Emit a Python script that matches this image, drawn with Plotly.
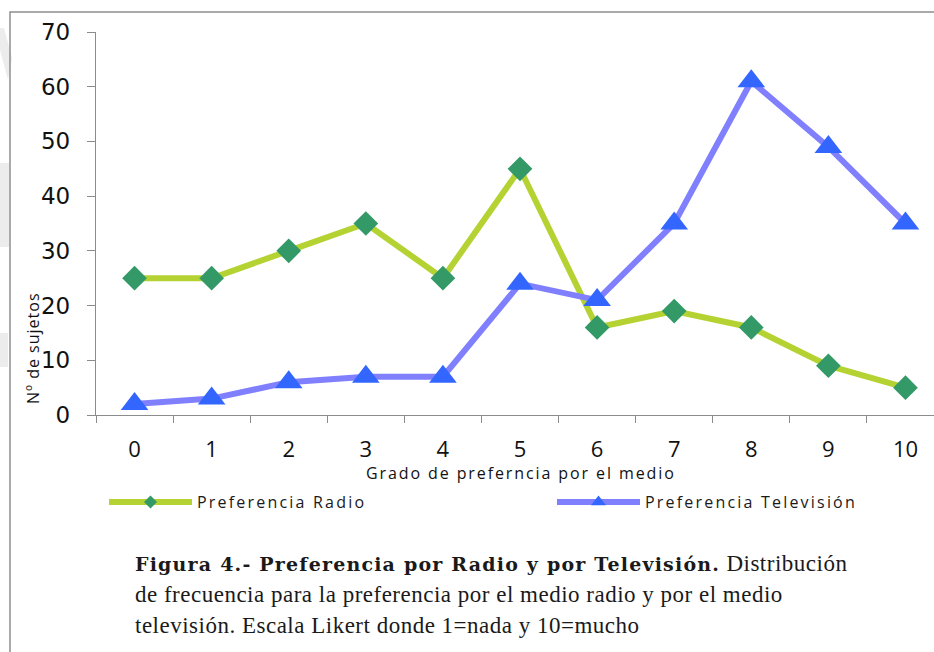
import plotly.graph_objects as go

# Likert scale categories and frequency per medium
grados = ["0", "1", "2", "3", "4", "5", "6", "7", "8", "9", "10"]
radio = [25, 25, 30, 35, 25, 45, 16, 19, 16, 9, 5]
television = [2, 3, 6, 7, 7, 24, 21, 35, 61, 49, 35]
y_ticks = [0, 10, 20, 30, 40, 50, 60, 70]

W, H = 934, 652

def px(x):
    return x / W

def py(y):
    return 1 - y / H

RADIO_LINE = "#b4d333"
RADIO_MARK = "#339966"
TV_LINE = "#8080ff"
TV_MARK = "#3366ff"
AXIS = "#8c8c8c"

fig = go.Figure()

fig.add_trace(go.Scatter(
    x=grados, y=radio, mode="lines+markers", showlegend=False,
    line=dict(color=RADIO_LINE, width=6),
    marker=dict(symbol="diamond", size=19, color=RADIO_MARK),
))
fig.add_trace(go.Scatter(
    x=grados, y=television, mode="lines+markers", showlegend=False,
    line=dict(color=TV_LINE, width=6),
    marker=dict(symbol="triangle-up", size=24, color=TV_MARK),
))

# legend keys with smaller symbols
fig.add_trace(go.Scatter(
    x=[None], y=[None], mode="lines+markers", legend="legend",
    name='<span style="letter-spacing:2.2px">Preferencia Radio</span>',
    line=dict(color=RADIO_LINE, width=6),
    marker=dict(symbol="diamond", size=10, color=RADIO_MARK),
))
fig.add_trace(go.Scatter(
    x=[None], y=[None], mode="lines+markers", legend="legend2",
    name='<span style="letter-spacing:2.2px">Preferencia Televisión</span>',
    line=dict(color=TV_LINE, width=6),
    marker=dict(symbol="triangle-up", size=13, color=TV_MARK),
))

legend_style = dict(
    orientation="h", xanchor="left", yanchor="middle",
    font=dict(family="Open Sans", size=16, color="#1a1a1a"),
    itemwidth=83, bgcolor="rgba(0,0,0,0)",
)

fig.update_layout(
    width=W, height=H, autosize=False,
    margin=dict(l=0, r=0, t=0, b=0, pad=0, autoexpand=False),
    paper_bgcolor="white", plot_bgcolor="white",
    hovermode=False,
    showlegend=True,
    legend=dict(x=px(104), y=py(502), **legend_style),
    legend2=dict(x=px(552), y=py(502), **legend_style),
    xaxis=dict(
        type="category", domain=[px(96), 1], range=[-0.5, 10.37],
        showline=True, linecolor=AXIS, linewidth=1.3,
        ticks="outside", tickson="boundaries", ticklen=7, tickcolor=AXIS, tickwidth=1.3,
        showgrid=False, zeroline=False, automargin=False,
        tickfont=dict(family="Open Sans", size=22, color="#111"),
        ticklabelstandoff=14,
        anchor="y", fixedrange=True,
    ),
    yaxis=dict(
        domain=[py(415), py(32)], range=[0, 70],
        tickmode="array", tickvals=y_ticks,
        showline=True, linecolor=AXIS, linewidth=1.3,
        ticks="outside", ticklen=8, tickcolor=AXIS, tickwidth=1.3,
        showgrid=False, zeroline=False, automargin=False,
        tickfont=dict(family="DejaVu Sans", size=23, color="#111"),
        ticklabelstandoff=12,
        anchor="x", fixedrange=True,
    ),
)

# outer frame of the figure
fig.add_shape(type="path", xref="paper", yref="paper",
              path=f"M {px(10)},0 L {px(10)},{py(12)} L 1,{py(12)}",
              line=dict(color="#8f8f8f", width=1.5), layer="above")

# faint grey page marks along the left edge
for pth in [
    f"M 0,{py(28)} L {px(4)},{py(28)} L {px(12)},{py(58)} L {px(8)},{py(80)} L 0,{py(50)} Z",
    f"M 0,{py(163)} L {px(9)},{py(163)} L {px(9)},{py(247)} L 0,{py(247)} Z",
    f"M 0,{py(333)} L {px(8)},{py(333)} L {px(8)},{py(367)} L 0,{py(367)} Z",
]:
    fig.add_shape(type="path", xref="paper", yref="paper", path=pth,
                  fillcolor="#ececec", line=dict(width=0), layer="below")

# axis titles
fig.add_annotation(x=px(521), y=py(473), xref="paper", yref="paper",
                   text='<span style="letter-spacing:1.9px">Grado de preferncia por el medio</span>',
                   showarrow=False, xanchor="center", yanchor="middle",
                   font=dict(family="Open Sans", size=16, color="#111"))
fig.add_annotation(x=px(33), y=py(348), xref="paper", yref="paper",
                   text='<span style="letter-spacing:1px">Nº de sujetos</span>',
                   textangle=-90, showarrow=False, xanchor="center", yanchor="middle",
                   font=dict(family="Open Sans", size=16, color="#111"))

# figure caption
cap_font = dict(family="Liberation Serif", size=23, color="#1a1a1a")
fig.add_annotation(
    x=px(133), y=py(563), xref="paper", yref="paper", xanchor="left", yanchor="middle",
    showarrow=False, font=cap_font, align="left",
    text=('<span style="font-family:\'DejaVu Serif\';font-size:19px;letter-spacing:1.2px">'
          '<b>Figura 4.- Preferencia por Radio y por Televisión.</b></span>'
          '<span style="letter-spacing:0.5px"> Distribución</span>'),
)
fig.add_annotation(
    x=px(133), y=py(594), xref="paper", yref="paper", xanchor="left", yanchor="middle",
    showarrow=False, font=cap_font, align="left",
    text='<span style="letter-spacing:0.5px">de frecuencia para la preferencia por el medio radio y por el medio</span>',
)
fig.add_annotation(
    x=px(133), y=py(625), xref="paper", yref="paper", xanchor="left", yanchor="middle",
    showarrow=False, font=cap_font, align="left",
    text='<span style="letter-spacing:0.5px">televisión. Escala Likert donde 1=nada y 10=mucho</span>',
)

fig.write_html("out.html")
